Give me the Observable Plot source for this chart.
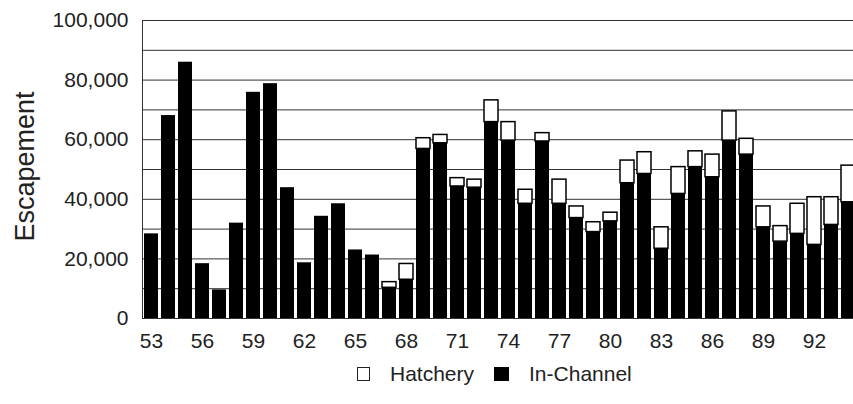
<!DOCTYPE html>
<html>
<head>
<meta charset="utf-8">
<script src="https://cdn.jsdelivr.net/npm/d3@7"></script>
<script src="https://cdn.jsdelivr.net/npm/@observablehq/plot@0.6"></script>
<style>
  html, body { margin: 0; padding: 0; background: #fff; overflow: hidden; }
  #wrap { position: relative; width: 853px; height: 404px; font-family: "Liberation Sans", Arial, sans-serif; }
  .legend { position: absolute; left: 357px; top: 362px; display: flex; align-items: center; font-size: 21px; color: #222; white-space: nowrap; }
  .sw-h { display: inline-block; width: 13px; height: 14px; border: 1.5px solid #222; box-sizing: border-box; background: #fff; }
  .sw-c { display: inline-block; width: 15px; height: 14px; background: #000; }
  .lab { display: inline-block; }
</style>
</head>
<body>
<div id="wrap">
  <div id="chart"></div>
  <div class="legend">
    <span class="sw-h"></span><span class="lab" style="margin-left:20px">Hatchery</span>
    <span class="sw-c" style="margin-left:20px"></span><span class="lab" style="margin-left:20px">In-Channel</span>
  </div>
</div>
<script>
const years = [53,54,55,56,57,58,59,60,61,62,63,64,65,66,67,68,69,70,71,72,73,74,75,76,77,78,79,80,81,82,83,84,85,86,87,88,89,90,91,92,93,94];
const inChannel = [28400,68100,86000,18400,9600,32000,75900,78800,43900,18700,34300,38500,23000,21300,10300,13000,56900,58800,44300,43900,65900,59700,38500,59400,38500,33700,29000,32600,45400,48500,23400,41800,50800,47400,59700,55000,30600,25800,28400,24700,31400,39000];
const hatchery = [0,0,0,0,0,0,0,0,0,0,0,0,0,0,1900,5300,3600,2800,2800,2700,7300,6200,4700,2800,8100,3900,3300,2900,7600,7300,7200,9000,5300,7600,9800,5300,7000,5200,10100,16000,9300,12300];
const xTicks = [53,56,59,62,65,68,71,74,77,80,83,86,89,92];
const yTicks = [0,20000,40000,60000,80000,100000];
const gridLines = [0,10000,20000,30000,40000,50000,60000,70000,80000,90000,100000];

const rows = years.map((year, i) => ({
  year,
  inChannel: inChannel[i],
  hatchery: hatchery[i],
  total: inChannel[i] + hatchery[i]
}));

const chart = Plot.plot({
  width: 853,
  height: 360,
  marginLeft: 142,
  marginRight: 0,
  marginTop: 20,
  marginBottom: 42,
  style: { fontFamily: '"Liberation Sans", Arial, sans-serif', background: "white", color: "#222" },
  x: { type: "band", domain: years, range: [139, 859], padding: 0.2 },
  y: { domain: [0, 100000] },
  marks: [
    Plot.ruleY(gridLines, { stroke: "#333", strokeWidth: 1 }),
    Plot.barY(rows, { x: "year", y: "inChannel", fill: "black" }),
    Plot.barY(rows.filter(d => d.hatchery > 0), { x: "year", y1: "inChannel", y2: "total", fill: "white", stroke: "black", strokeWidth: 1.5 }),
    Plot.frame({ anchor: "left", stroke: "#333" }),
    Plot.axisY({ ticks: yTicks, tickSize: 0, tickPadding: 14, fontSize: 21, label: null, tickFormat: d3.format(",") }),
    Plot.axisX({ ticks: xTicks, tickSize: 0, tickPadding: 15, fontSize: 21, label: null, tickFormat: d => String(d) }),
    Plot.text(["Escapement"], { frameAnchor: "left", textAnchor: "middle", lineAnchor: "middle", dx: -117, dy: -3, rotate: -90, fontSize: 27, fill: "#222" })
  ]
});
document.getElementById("chart").appendChild(chart);
</script>
</body>
</html>
